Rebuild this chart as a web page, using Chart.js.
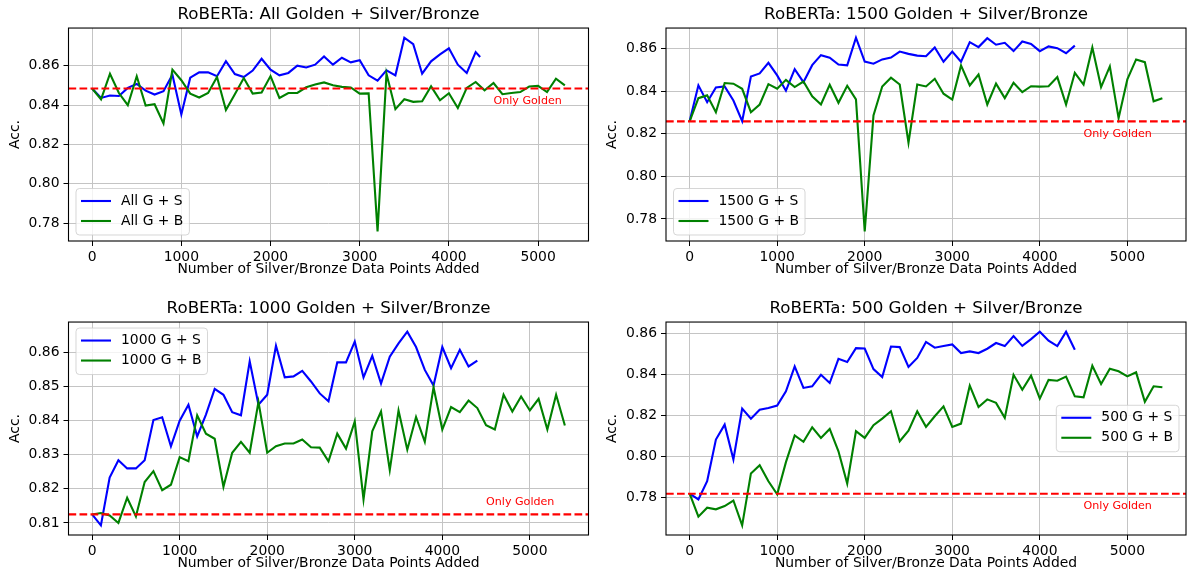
<!DOCTYPE html>
<html><head><meta charset="utf-8">
<script src="https://cdn.jsdelivr.net/npm/chart.js@4.4.1/dist/chart.umd.min.js"></script>
<style>
html,body{margin:0;padding:0;background:#fff;width:1188px;height:583px;overflow:hidden;}
.cell{position:absolute;width:594px;height:291px;}
canvas{display:block;}
</style></head><body>
<div class="cell" style="left:0;top:0"><canvas id="c0" width="594" height="291"></canvas></div>
<div class="cell" style="left:594px;top:0"><canvas id="c1" width="594" height="291"></canvas></div>
<div class="cell" style="left:0;top:294.3px"><canvas id="c2" width="594" height="291"></canvas></div>
<div class="cell" style="left:594px;top:294.3px"><canvas id="c3" width="594" height="291"></canvas></div>
<script>
// ---------------- DATA ----------------
const xTickValues = [0, 1000, 2000, 3000, 4000, 5000];
const yTicksWide = [0.78, 0.80, 0.82, 0.84, 0.86];
const yTicks1000 = [0.81, 0.82, 0.83, 0.84, 0.85, 0.86];

const xAllS = [0,100,200,300,400,500,600,700,800,900,1000,1100,1200,1300,1400,1500,1600,1700,1800,1900,2000,2100,2200,2300,2400,2500,2600,2700,2800,2900,3000,3100,3200,3300,3400,3500,3600,3700,3800,3900,4000,4100,4200,4300,4350];
const xAllB = [0,100,200,300,400,500,600,700,800,900,1000,1100,1200,1300,1400,1500,1600,1700,1800,1900,2000,2100,2200,2300,2400,2500,2600,2700,2800,2900,3000,3100,3200,3300,3400,3500,3600,3700,3800,3900,4000,4100,4200,4300,4400,4500,4600,4700,4800,4900,5000,5100,5200,5300];
const xSilver = [0,100,200,300,400,500,600,700,800,900,1000,1100,1200,1300,1400,1500,1600,1700,1800,1900,2000,2100,2200,2300,2400,2500,2600,2700,2800,2900,3000,3100,3200,3300,3400,3500,3600,3700,3800,3900,4000,4100,4200,4300,4400];
const xBronze = [0,100,200,300,400,500,600,700,800,900,1000,1100,1200,1300,1400,1500,1600,1700,1800,1900,2000,2100,2200,2300,2400,2500,2600,2700,2800,2900,3000,3100,3200,3300,3400,3500,3600,3700,3800,3900,4000,4100,4200,4300,4400,4500,4600,4700,4800,4900,5000,5100,5200,5300,5400];

const goldenAll = 0.8484, golden1500 = 0.8259, golden1000 = 0.8125, golden500 = 0.782;

const accAllS = [0.8484,0.8436,0.8448,0.8446,0.8487,0.8507,0.8473,0.8453,0.8470,0.8554,0.8352,0.8539,0.8566,0.8566,0.8546,0.8623,0.8557,0.8542,0.8575,0.8635,0.8580,0.8551,0.8563,0.8600,0.8591,0.8605,0.8647,0.8605,0.8640,0.8617,0.8628,0.8551,0.8524,0.8576,0.8551,0.8742,0.8709,0.8559,0.8622,0.8657,0.8688,0.8605,0.8563,0.8669,0.8644];
const accAllB = [0.8484,0.8429,0.8559,0.8461,0.8399,0.8546,0.8397,0.8404,0.8306,0.8580,0.8526,0.8458,0.8438,0.8461,0.8542,0.8375,0.8455,0.8537,0.8458,0.8463,0.8547,0.8436,0.8461,0.8461,0.8490,0.8504,0.8515,0.8500,0.8492,0.8489,0.8458,0.8459,0.7758,0.8559,0.8379,0.8429,0.8416,0.8419,0.8495,0.8424,0.8460,0.8385,0.8487,0.8517,0.8475,0.8512,0.8455,0.8461,0.8466,0.8494,0.8497,0.8466,0.8534,0.8500];

const acc1500S = [0.8259,0.8428,0.8349,0.8418,0.8423,0.8357,0.8260,0.8470,0.8484,0.8534,0.8475,0.8403,0.8504,0.8443,0.8523,0.8570,0.8558,0.8526,0.8522,0.8652,0.8540,0.8530,0.8550,0.8559,0.8587,0.8576,0.8568,0.8565,0.8606,0.8539,0.8587,0.8539,0.8631,0.8608,0.8650,0.8619,0.8628,0.8589,0.8634,0.8623,0.8589,0.8611,0.8603,0.8579,0.8615];
const acc1500B = [0.8259,0.8368,0.8381,0.8302,0.8439,0.8436,0.8412,0.8302,0.8338,0.8434,0.8412,0.8454,0.8420,0.8446,0.8377,0.8338,0.8431,0.8346,0.8426,0.8362,0.7742,0.8287,0.8423,0.8464,0.8432,0.8159,0.8432,0.8423,0.8459,0.8389,0.8361,0.8522,0.8428,0.8479,0.8338,0.8436,0.8368,0.8440,0.8396,0.8424,0.8422,0.8424,0.8467,0.8338,0.8487,0.8432,0.8606,0.8420,0.8517,0.8274,0.8456,0.8550,0.8537,0.8353,0.8368];

const acc1000S = [0.8125,0.8093,0.8233,0.8284,0.8260,0.8260,0.8284,0.8402,0.8410,0.8325,0.8400,0.8447,0.8354,0.8418,0.8493,0.8476,0.8425,0.8416,0.8574,0.8447,0.8476,0.8620,0.8527,0.8530,0.8546,0.8515,0.8480,0.8457,0.8571,0.8571,0.8632,0.8527,0.8590,0.8509,0.8588,0.8627,0.8661,0.8616,0.8549,0.8503,0.8616,0.8554,0.8608,0.8559,0.8576];
const acc1000B = [0.8125,0.8129,0.8122,0.8100,0.8174,0.8119,0.8220,0.8252,0.8196,0.8212,0.8293,0.8281,0.8416,0.8362,0.8347,0.8206,0.8306,0.8338,0.8306,0.8455,0.8306,0.8325,0.8333,0.8333,0.8345,0.8322,0.8321,0.8281,0.8362,0.8318,0.8398,0.8169,0.8369,0.8427,0.8255,0.8430,0.8315,0.8411,0.8338,0.8498,0.8374,0.8440,0.8425,0.8459,0.8437,0.8387,0.8374,0.8476,0.8427,0.8471,0.8430,0.8464,0.8374,0.8476,0.8386];

const acc500S = [0.7820,0.7792,0.7881,0.8084,0.8157,0.7987,0.8235,0.8186,0.8230,0.8238,0.8250,0.8319,0.8441,0.8336,0.8344,0.8400,0.8360,0.8478,0.8462,0.8530,0.8528,0.8428,0.8389,0.8538,0.8535,0.8438,0.8482,0.8560,0.8532,0.8540,0.8548,0.8506,0.8514,0.8506,0.8527,0.8555,0.8540,0.8589,0.8541,0.8574,0.8610,0.8566,0.8540,0.8610,0.8522];
const acc500B = [0.7820,0.7708,0.7752,0.7744,0.7760,0.7787,0.7666,0.7919,0.7959,0.7881,0.7817,0.7974,0.8104,0.8073,0.8144,0.8092,0.8136,0.8027,0.7870,0.8125,0.8092,0.8154,0.8186,0.8222,0.8076,0.8128,0.8222,0.8146,0.8198,0.8246,0.8146,0.8162,0.8347,0.8243,0.8280,0.8263,0.8190,0.8400,0.8327,0.8396,0.8284,0.8375,0.8371,0.8391,0.8295,0.8290,0.8444,0.8355,0.8430,0.8417,0.8392,0.8412,0.8268,0.8344,0.8339];

const goldenLabel = 'Only Golden';
const goldenLabelX = 4500;
const xTitle = 'Number of Silver/Bronze Data Points Added';
const yTitle = 'Acc.';

// ---------------- RENDERING ----------------
Chart.defaults.font.family = "'DejaVu Sans', sans-serif";
Chart.defaults.color = '#000';

const FS = 13.9;

const mplPlugin = {
  id: 'mpl',
  afterDatasetsDraw(chart, args, o) {
    const {ctx, chartArea: a, scales: {x, y}} = chart;
    const gy = y.getPixelForValue(o.golden);
    ctx.save();
    ctx.beginPath(); ctx.rect(a.left, a.top, a.right - a.left, a.bottom - a.top); ctx.clip();
    ctx.strokeStyle = '#ff0000'; ctx.lineWidth = 2.1; ctx.setLineDash([7.7, 3.3]);
    ctx.beginPath(); ctx.moveTo(a.left, gy); ctx.lineTo(a.right, gy); ctx.stroke();
    ctx.restore();

    ctx.save();
    ctx.fillStyle = '#ff0000'; ctx.font = "11.1px 'DejaVu Sans'";
    ctx.textAlign = 'left'; ctx.textBaseline = 'middle';
    ctx.fillText(goldenLabel, x.getPixelForValue(goldenLabelX), gy + o.labelDy);
    ctx.restore();

    ctx.save();
    ctx.strokeStyle = '#000'; ctx.lineWidth = 1.1;
    ctx.strokeRect(a.left, a.top, a.right - a.left, a.bottom - a.top);
    ctx.restore();

    // legend
    ctx.save();
    ctx.font = FS + "px 'DejaVu Sans'";
    const items = chart.data.datasets;
    const tw = Math.max(...items.map(d => ctx.measureText(d.label).width));
    const w = 5 + 30 + 10 + tw + 6;
    const h = 46.5;
    let bx, by;
    if (o.legend === 'lower left') { bx = a.left + 7.5; by = a.bottom - 6 - h; }
    else if (o.legend === 'upper left') { bx = a.left + 7.5; by = a.top + 6; }
    else { bx = a.right - 7 - w; by = (a.top + a.bottom) / 2 - h / 2; }
    ctx.beginPath();
    ctx.roundRect(bx, by, w, h, 3.5);
    ctx.fillStyle = 'rgba(255,255,255,0.8)'; ctx.fill();
    ctx.strokeStyle = 'rgba(204,204,204,0.8)'; ctx.lineWidth = 1; ctx.stroke();
    items.forEach((d, i) => {
      const yy = by + 12.5 + i * 20;
      ctx.beginPath(); ctx.moveTo(bx + 5, yy); ctx.lineTo(bx + 35, yy);
      ctx.strokeStyle = d.borderColor; ctx.lineWidth = 2.1; ctx.stroke();
      ctx.fillStyle = '#000'; ctx.textAlign = 'left'; ctx.textBaseline = 'middle';
      ctx.fillText(d.label, bx + 45, yy);
    });
    ctx.restore();
  }
};

function range(vals, frac) {
  const mn = Math.min(...vals), mx = Math.max(...vals), r = mx - mn;
  return [mn - frac * r, mx + frac * r];
}

function makeChart(id, c) {
  const allX = c.xS.concat(c.xB);
  const allY = c.yS.concat(c.yB, [c.golden]);
  const [xmin, xmax] = range(allX, 0.05);
  const [ymin, ymax] = range(allY, 0.05);
  new Chart(document.getElementById(id), {
    type: 'line',
    data: {
      datasets: [
        { label: c.labelS, data: c.xS.map((x, i) => ({x, y: c.yS[i]})), borderColor: '#0000ff',
          borderWidth: 2.1, pointRadius: 0, tension: 0, fill: false, order: 1 },
        { label: c.labelB, data: c.xB.map((x, i) => ({x, y: c.yB[i]})), borderColor: '#008000',
          borderWidth: 2.1, pointRadius: 0, tension: 0, fill: false, order: 0 }
      ]
    },
    options: {
      responsive: false, animation: false, devicePixelRatio: 1,
      layout: { padding: { left: 0, right: c.padRight, top: 0, bottom: 0 } },
      plugins: {
        legend: { display: false }, tooltip: { enabled: false },
        title: { display: true, text: c.title, fullSize: false, color: '#000',
                 font: { size: 16.7, weight: 'normal' }, padding: { top: 4.2, bottom: 3.8 } },
        mpl: { golden: c.golden, labelDy: c.labelDy, legend: c.legend }
      },
      scales: {
        x: {
          type: 'linear', min: xmin, max: xmax,
          afterBuildTicks: s => { s.ticks = xTickValues.map(v => ({value: v})); },
          afterFit: s => { s.height = 50; },
          ticks: { callback: v => String(v), font: { size: FS }, color: '#000', padding: 3, maxRotation: 0, autoSkip: false },
          grid: { color: '#c4c4c4', lineWidth: 1, tickColor: '#000', tickLength: 5 },
          border: { display: false },
          title: { display: true, text: xTitle, color: '#000', font: { size: FS }, padding: { top: 0, bottom: 13 } }
        },
        y: {
          type: 'linear', min: ymin, max: ymax,
          afterBuildTicks: s => { s.ticks = c.yTicks.map(v => ({value: v})); },
          afterFit: s => { s.width = c.yWidth; },
          ticks: { callback: v => v.toFixed(2), font: { size: FS }, color: '#000', padding: 4, autoSkip: false },
          grid: { color: '#c4c4c4', lineWidth: 1, tickColor: '#000', tickLength: 5 },
          border: { display: false },
          title: { display: true, text: yTitle, color: '#000', font: { size: FS }, padding: { top: c.yTitlePad, bottom: 0 } }
        }
      }
    },
    plugins: [mplPlugin]
  });
}

makeChart('c0', { title: 'RoBERTa: All Golden + Silver/Bronze', labelS: 'All G + S', labelB: 'All G + B',
  xS: xAllS, yS: accAllS, xB: xAllB, yB: accAllB, golden: goldenAll, yTicks: yTicksWide,
  legend: 'lower left', labelDy: 12.7, yWidth: 68.5, padRight: 5.5, yTitlePad: 6.6 });
makeChart('c1', { title: 'RoBERTa: 1500 Golden + Silver/Bronze', labelS: '1500 G + S', labelB: '1500 G + B',
  xS: xSilver, yS: acc1500S, xB: xBronze, yB: acc1500B, golden: golden1500, yTicks: yTicksWide,
  legend: 'lower left', labelDy: 12.7, yWidth: 72, padRight: 2, yTitlePad: 10.1 });
makeChart('c2', { title: 'RoBERTa: 1000 Golden + Silver/Bronze', labelS: '1000 G + S', labelB: '1000 G + B',
  xS: xSilver, yS: acc1000S, xB: xBronze, yB: acc1000B, golden: golden1000, yTicks: yTicks1000,
  legend: 'upper left', labelDy: -12.3, yWidth: 68.5, padRight: 5.5, yTitlePad: 6.6 });
makeChart('c3', { title: 'RoBERTa: 500 Golden + Silver/Bronze', labelS: '500 G + S', labelB: '500 G + B',
  xS: xSilver, yS: acc500S, xB: xBronze, yB: acc500B, golden: golden500, yTicks: yTicksWide,
  legend: 'center right', labelDy: 12.7, yWidth: 72, padRight: 2, yTitlePad: 10.1 });
</script>
</body></html>
